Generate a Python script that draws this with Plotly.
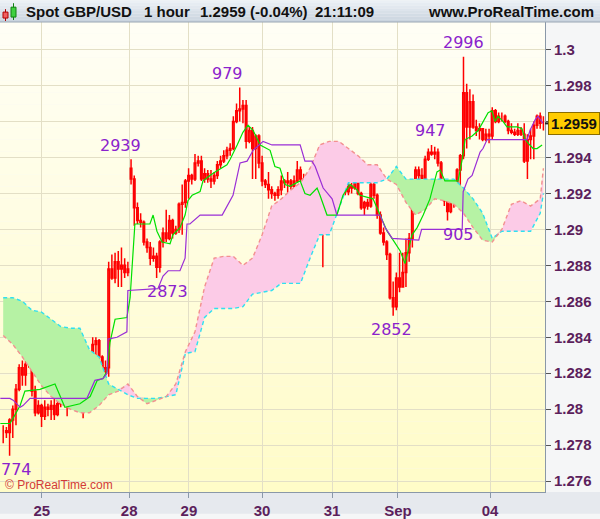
import numpy as np
import plotly.graph_objects as go

# hourly bars, GBP/USD, 24 Aug - 4 Sep (bar index 0..169)
opens = [
    1.2788, 1.2788, 1.2787, 1.2794, 1.2800, 1.2811, 1.2823, 1.2819, 1.2825, 1.2828,
    1.2810, 1.2798, 1.2802, 1.2796, 1.2801, 1.2800, 1.2802, 1.2797, 1.2803, 1.2805,
    1.2807, 1.2806, 1.2810, 1.2812, 1.2813, 1.2806, 1.2807, 1.2818, 1.2829, 1.2836,
    1.2838, 1.2829, 1.2821, 1.2823,
    1.2878, 1.2873, 1.2882, 1.2878, 1.2880, 1.2876,
    1.2934, 1.2928, 1.2912, 1.2905, 1.2904, 1.2893, 1.2890, 1.2884, 1.2885, 1.2879,
    1.2893, 1.2898, 1.2895, 1.2905, 1.2898, 1.2900, 1.2914, 1.2915, 1.2927, 1.2930,
    1.2928, 1.2937, 1.2938, 1.2928, 1.2931, 1.2928, 1.2927, 1.2930, 1.2936, 1.2938,
    1.2941, 1.2944,
    1.2945, 1.2960, 1.2966, 1.2967, 1.2969, 1.2949, 1.2955, 1.2945, 1.2952, 1.2937,
    1.2927, 1.2925, 1.2922, 1.2920, 1.2919, 1.2922, 1.2927, 1.2926, 1.2927, 1.2924,
    1.2927, 1.2933, 1.2928, 1.2910, 1.2926, 1.2924, 1.2927, 1.2921, 1.2906, 1.2898,
    1.2920, 1.2934, 1.2931, 1.2930, 1.2927, 1.2925, 1.2921, 1.2924,
    1.2923, 1.2926, 1.2920, 1.2912, 1.2915, 1.2913, 1.2925, 1.2919, 1.2908, 1.2898,
    1.2893, 1.2886, 1.2862, 1.2857, 1.2873, 1.2868, 1.2876, 1.2887, 1.2895, 1.2914,
    1.2933, 1.2930, 1.2928, 1.2939, 1.2943, 1.2942, 1.2943, 1.2937, 1.2925, 1.2916,
    1.2910, 1.2915, 1.2925, 1.2933, 1.2941, 1.2976, 1.2957, 1.2971, 1.2957, 1.2955,
    1.2956, 1.2950, 1.2953, 1.2952, 1.2966, 1.2960, 1.2963, 1.2963, 1.2960, 1.2955,
    1.2954, 1.2953, 1.2955, 1.2953, 1.2938, 1.2950, 1.2952, 1.2958, 1.2963, 1.2959,
]
highs = [
    1.2791, 1.2790, 1.2795, 1.2802, 1.2814, 1.2825, 1.2827, 1.2838, 1.2834, 1.2829,
    1.2813, 1.2805, 1.2803, 1.2805, 1.2803, 1.2805, 1.2807, 1.2807, 1.2810, 1.2813,
    1.2811, 1.2813, 1.2817, 1.2816, 1.2814, 1.2818, 1.2819, 1.2831, 1.2840, 1.2840,
    1.2839, 1.2830, 1.2827, 1.2882,
    1.2886, 1.2887, 1.2888, 1.2890, 1.2884, 1.2882,
    1.2939, 1.2930, 1.2915, 1.2909, 1.2905, 1.2895, 1.2893, 1.2890, 1.2887, 1.2894,
    1.2901, 1.2911, 1.2908, 1.2906, 1.2902, 1.2915, 1.2925, 1.2928, 1.2934, 1.2931,
    1.2942, 1.2941, 1.2941, 1.2934, 1.2933, 1.2933, 1.2932, 1.2938, 1.2941, 1.2944,
    1.2946, 1.2948,
    1.2963, 1.2970, 1.2979, 1.2972, 1.2972, 1.2957, 1.2957, 1.2953, 1.2953, 1.2941,
    1.2928, 1.2932, 1.2924, 1.2921, 1.2924, 1.2930, 1.2928, 1.2932, 1.2928, 1.2930,
    1.2938, 1.2935, 1.2931, 1.2928, 1.2934, 1.2936, 1.2938, 1.2928, 1.2909, 1.2923,
    1.2937, 1.2938, 1.2934, 1.2933, 1.2931, 1.2927, 1.2927, 1.2926,
    1.2927, 1.2927, 1.2921, 1.2916, 1.2917, 1.2927, 1.2926, 1.2920, 1.2910, 1.2901,
    1.2894, 1.2887, 1.2871, 1.2876, 1.2887, 1.2887, 1.2895, 1.2898, 1.2915, 1.2935,
    1.2935, 1.2934, 1.2941, 1.2945, 1.2947, 1.2946, 1.2945, 1.2938, 1.2927, 1.2919,
    1.2920, 1.2927, 1.2934, 1.2942, 1.2996, 1.2981, 1.2978, 1.2975, 1.2961, 1.2959,
    1.2956, 1.2956, 1.2956, 1.2968, 1.2967, 1.2965, 1.2965, 1.2964, 1.2961, 1.2959,
    1.2956, 1.2959, 1.2957, 1.2959, 1.2953, 1.2956, 1.2960, 1.2964, 1.2965, 1.2963,
]
lows = [
    1.2781, 1.2784, 1.2774, 1.2784, 1.2791, 1.2810, 1.2813, 1.2813, 1.2823, 1.2807,
    1.2796, 1.2797, 1.2790, 1.2794, 1.2796, 1.2794, 1.2794, 1.2796, 1.2801, 1.2802,
    1.2796, 1.2805, 1.2807, 1.2810, 1.2805, 1.2795, 1.2805, 1.2816, 1.2828, 1.2829,
    1.2827, 1.2816, 1.2819, 1.2818,
    1.2872, 1.2870, 1.2868, 1.2868, 1.2873, 1.2874,
    1.2925, 1.2902, 1.2903, 1.2901, 1.2891, 1.2887, 1.2880, 1.2882, 1.2873, 1.2876,
    1.2890, 1.2893, 1.2894, 1.2895, 1.2897, 1.2898, 1.2897, 1.2912, 1.2917, 1.2925,
    1.2927, 1.2935, 1.2927, 1.2926, 1.2926, 1.2923, 1.2925, 1.2928, 1.2934, 1.2937,
    1.2939, 1.2941,
    1.2944, 1.2959, 1.2960, 1.2959, 1.2945, 1.2948, 1.2928, 1.2928, 1.2934, 1.2924,
    1.2923, 1.2917, 1.2917, 1.2916, 1.2917, 1.2919, 1.2923, 1.2919, 1.2922, 1.2923,
    1.2926, 1.2927, 1.2897, 1.2909, 1.2916, 1.2920, 1.2920, 1.2905, 1.2879, 1.2897,
    1.2919, 1.2928, 1.2919, 1.2923, 1.2923, 1.2919, 1.2919, 1.2920,
    1.2922, 1.2919, 1.2911, 1.2908, 1.2911, 1.2912, 1.2917, 1.2906, 1.2897, 1.2891,
    1.2883, 1.2861, 1.2852, 1.2855, 1.2865, 1.2868, 1.2868, 1.2882, 1.2890, 1.2911,
    1.2927, 1.2926, 1.2927, 1.2938, 1.2941, 1.2939, 1.2935, 1.2923, 1.2913, 1.2905,
    1.2909, 1.2912, 1.2923, 1.2923, 1.2939, 1.2945, 1.2950, 1.2956, 1.2952, 1.2950,
    1.2949, 1.2949, 1.2948, 1.2950, 1.2959, 1.2959, 1.2960, 1.2959, 1.2953, 1.2953,
    1.2952, 1.2952, 1.2952, 1.2937, 1.2928, 1.2939, 1.2939, 1.2956, 1.2956, 1.2955,
]
closes = [
    1.2788, 1.2787, 1.2794, 1.2800, 1.2811, 1.2823, 1.2819, 1.2825, 1.2828, 1.2810,
    1.2798, 1.2802, 1.2796, 1.2801, 1.2800, 1.2802, 1.2797, 1.2803, 1.2805, 1.2807,
    1.2806, 1.2810, 1.2812, 1.2813, 1.2806, 1.2807, 1.2818, 1.2829, 1.2836, 1.2838,
    1.2829, 1.2821, 1.2823, 1.2878,
    1.2873, 1.2882, 1.2878, 1.2880, 1.2876, 1.2878,
    1.2928, 1.2912, 1.2905, 1.2904, 1.2893, 1.2890, 1.2884, 1.2885, 1.2879, 1.2893,
    1.2898, 1.2895, 1.2905, 1.2898, 1.2900, 1.2914, 1.2915, 1.2927, 1.2930, 1.2928,
    1.2937, 1.2938, 1.2928, 1.2931, 1.2928, 1.2927, 1.2930, 1.2936, 1.2938, 1.2941,
    1.2944, 1.2945,
    1.2960, 1.2966, 1.2967, 1.2969, 1.2949, 1.2955, 1.2945, 1.2952, 1.2937, 1.2927,
    1.2925, 1.2922, 1.2920, 1.2919, 1.2922, 1.2927, 1.2926, 1.2927, 1.2924, 1.2927,
    1.2933, 1.2928, 1.2910, 1.2926, 1.2924, 1.2927, 1.2921, 1.2906, 1.2898, 1.2920,
    1.2934, 1.2931, 1.2930, 1.2927, 1.2925, 1.2921, 1.2924, 1.2923,
    1.2926, 1.2920, 1.2912, 1.2915, 1.2913, 1.2925, 1.2919, 1.2908, 1.2898, 1.2893,
    1.2886, 1.2862, 1.2857, 1.2873, 1.2868, 1.2876, 1.2887, 1.2895, 1.2914, 1.2933,
    1.2930, 1.2928, 1.2939, 1.2943, 1.2942, 1.2943, 1.2937, 1.2925, 1.2916, 1.2910,
    1.2915, 1.2925, 1.2933, 1.2941, 1.2976, 1.2957, 1.2971, 1.2957, 1.2955, 1.2956,
    1.2950, 1.2953, 1.2952, 1.2966, 1.2960, 1.2963, 1.2963, 1.2960, 1.2955, 1.2954,
    1.2953, 1.2955, 1.2953, 1.2938, 1.2950, 1.2952, 1.2958, 1.2963, 1.2959, 1.2959,
]
bar_idx = np.arange(len(closes))

# Ichimoku: tenkan (green) and kijun (purple), read as (bar, price) vertices
tenkan_x = [-0.9, 2.1, 3.1, 5.3, 6.8, 11.5, 16.2, 17.8, 19.3, 24.0, 27.2, 29.4, 31.2, 32.5, 33.4,
            35.0, 38.7, 39.7, 40.3, 41.2, 45.9, 46.9, 48.1, 49.7, 52.2, 53.1, 55.3, 56.9, 57.8,
            59.1, 61.6, 62.5, 64.7, 66.3, 70.0, 71.0, 73.2, 75.0, 76.6, 78.2, 80.4, 83.5, 85.0,
            86.6, 88.2, 89.7, 92.9, 94.4, 96.0, 98.2, 99.1, 101.3, 104.4, 106.3, 108.5, 110.7,
            111.6, 115.7, 117.9, 120.1, 122.0, 124.2, 125.7, 126.7, 127.9, 129.5, 131.4, 133.5,
            135.7, 136.7, 138.2, 142.3, 143.6, 144.5, 146.7, 148.6, 150.1, 151.7, 152.9, 153.9,
            154.8, 156.4, 157.6, 160.8, 162.3, 163.3, 164.2, 165.8, 167.0, 168.6]
tenkan_y = [1.2792, 1.2792, 1.2795, 1.2802, 1.2810, 1.2811, 1.2814, 1.2807, 1.2801, 1.2803, 1.2807,
            1.2816, 1.2817, 1.2821, 1.2837, 1.2850, 1.2851, 1.2862, 1.2877, 1.2903, 1.2903, 1.2908,
            1.2899, 1.2893, 1.2892, 1.2897, 1.2901, 1.2908, 1.2916, 1.2919, 1.2921, 1.2927, 1.2930,
            1.2932, 1.2936, 1.2939, 1.2947, 1.2954, 1.2958, 1.2955, 1.2947, 1.2944, 1.2935, 1.2934,
            1.2925, 1.2924, 1.2927, 1.2920, 1.2919, 1.2923, 1.2919, 1.2908, 1.2908, 1.2919, 1.2925,
            1.2922, 1.2919, 1.2917, 1.2908, 1.2899, 1.2894, 1.2888, 1.2881, 1.2888, 1.2897, 1.2901,
            1.2908, 1.2917, 1.2932, 1.2933, 1.2927, 1.2927, 1.2939, 1.2950, 1.2952, 1.2955, 1.2960,
            1.2965, 1.2966, 1.2960, 1.2963, 1.2960, 1.2957, 1.2957, 1.2956, 1.2950, 1.2948, 1.2945,
            1.2945, 1.2947]
kijun_x = [-0.9, 2.1, 3.1, 5.3, 6.2, 8.4, 26.2, 27.2, 28.7, 31.2, 32.5, 32.8, 35.6, 38.7, 39.0,
           48.4, 50.0, 51.6, 55.3, 56.9, 57.5, 58.4, 61.6, 68.5, 71.9, 74.1, 76.3, 78.2, 81.3,
           84.1, 92.9, 94.4, 96.6, 97.6, 100.1, 102.9, 104.4, 117.9, 119.5, 121.7, 130.0, 130.9,
           143.6, 143.9, 145.4, 146.7, 148.3, 149.2, 150.1, 151.4, 163.9, 164.8, 166.4, 167.3, 168.9]
kijun_y = [1.2806, 1.2806, 1.2805, 1.2801, 1.2802, 1.2806, 1.2806, 1.2810, 1.2816, 1.2817, 1.2820,
           1.2839, 1.2840, 1.2843, 1.2866, 1.2867, 1.2874, 1.2877, 1.2877, 1.2884, 1.2903, 1.2903,
           1.2908, 1.2908, 1.2919, 1.2937, 1.2938, 1.2944, 1.2949, 1.2947, 1.2947, 1.2938, 1.2938,
           1.2935, 1.2923, 1.2917, 1.2908, 1.2908, 1.2901, 1.2895, 1.2894, 1.2900, 1.2900, 1.2921,
           1.2928, 1.2930, 1.2939, 1.2943, 1.2945, 1.2950, 1.2950, 1.2955, 1.2961, 1.2963, 1.2959]

# cloud: senkou span A (cyan) and span B (salmon)
cloud_idx = list(range(0, 169, 3)) + [169]
span_a = [1.2862, 1.2862, 1.2860, 1.2855, 1.2854, 1.2850, 1.2846, 1.2845, 1.2845, 1.2833,
          1.2829, 1.2814, 1.2811, 1.2808, 1.2806, 1.2806, 1.2806, 1.2807, 1.2808, 1.2831,
          1.2832, 1.2851, 1.2856, 1.2856, 1.2856, 1.2857, 1.2864, 1.2865, 1.2866, 1.2870,
          1.2870, 1.2870, 1.2884, 1.2897, 1.2897, 1.2912, 1.2926, 1.2926, 1.2926, 1.2926,
          1.2928, 1.2935, 1.2928, 1.2928, 1.2928, 1.2928, 1.2928, 1.2928, 1.2923, 1.2917,
          1.2909, 1.2895, 1.2899, 1.2899, 1.2899, 1.2899, 1.2909, 1.2920]
span_b = [1.2841, 1.2836, 1.2829, 1.2821, 1.2813, 1.2807, 1.2803, 1.2800, 1.2798, 1.2798,
          1.2802, 1.2808, 1.2810, 1.2814, 1.2807, 1.2803, 1.2805, 1.2807, 1.2814, 1.2832,
          1.2843, 1.2868, 1.2884, 1.2885, 1.2885, 1.2880, 1.2884, 1.2897, 1.2913, 1.2917,
          1.2922, 1.2926, 1.2934, 1.2947, 1.2949, 1.2949, 1.2945, 1.2941, 1.2936, 1.2936,
          1.2928, 1.2925, 1.2915, 1.2908, 1.2911, 1.2917, 1.2916, 1.2914, 1.2909, 1.2901,
          1.2894, 1.2893, 1.2900, 1.2914, 1.2916, 1.2913, 1.2917, 1.2934]

# swing labels (bar, high/low, text)
label_bars = [2, 40, 48, 74, 122, 134, 139, 144]
label_side = ["low", "high", "low", "high", "low", "high", "low", "high"]
label_text = ["774", "2939", "2873", "979", "2852", "947", "905", "2996"]
label_xshift = [7, -11, 11, -12, -2, -1, 11, 0]

day_ticks = [12.1, 39.4, 58.1, 81.0, 102.9, 123.5, 152.3]
day_labels = ["25", "28", "29", "30", "31", "Sep", "04"]
price_ticks = [1.276, 1.278, 1.28, 1.282, 1.284, 1.286, 1.288, 1.29, 1.292, 1.294, 1.296, 1.298, 1.3]
# 1.296 sits under the last-price box, so its label is left blank
price_labels = ["1.276", "1.278", "1.28", "1.282", "1.284", "1.286", "1.288", "1.29",
                "1.292", "1.294", "", "1.298", "1.3"]
last_price = 1.2959

X_RANGE = [-1, 169.5]
Y_RANGE = [1.27539, 1.30154]
AX_COLOR = '#5c1f5c'

fig = go.Figure()

# cloud fills: green where A above B, pink where B above A
upper = np.maximum(span_a, span_b)
fig.add_trace(go.Scatter(x=cloud_idx, y=span_b, mode='lines', line=dict(width=0),
                         hoverinfo='skip', showlegend=False))
fig.add_trace(go.Scatter(x=cloud_idx, y=upper, mode='lines', line=dict(width=0), fill='tonexty',
                         fillcolor='#b6f2a4', hoverinfo='skip', showlegend=False))
fig.add_trace(go.Scatter(x=cloud_idx, y=span_a, mode='lines', line=dict(width=0),
                         hoverinfo='skip', showlegend=False))
fig.add_trace(go.Scatter(x=cloud_idx, y=upper, mode='lines', line=dict(width=0), fill='tonexty',
                         fillcolor='#fccbe7', hoverinfo='skip', showlegend=False))
fig.add_trace(go.Scatter(x=cloud_idx, y=span_a, mode='lines', showlegend=False,
                         line=dict(color='#2fe0f0', width=1.4, dash='4px,3px')))
fig.add_trace(go.Scatter(x=cloud_idx, y=span_b, mode='lines', showlegend=False,
                         line=dict(color='#f39090', width=1.4, dash='4px,3px')))

fig.add_trace(go.Candlestick(
    x=bar_idx, open=opens, high=highs, low=lows, close=closes, showlegend=False,
    increasing=dict(line=dict(color='#ff0000', width=1.5), fillcolor='rgba(0,0,0,0)'),
    decreasing=dict(line=dict(color='#ff0000', width=1.5), fillcolor='#7a2c78'),
    whiskerwidth=0,
))

fig.add_trace(go.Scatter(x=tenkan_x, y=tenkan_y, mode='lines', showlegend=False,
                         line=dict(color='#00e000', width=1.2)))
fig.add_trace(go.Scatter(x=kijun_x, y=kijun_y, mode='lines', showlegend=False,
                         line=dict(color='#9a2ed6', width=1.2)))

# swing labels
for b, side, t, dx in zip(label_bars, label_side, label_text, label_xshift):
    yv = highs[b] if side == "high" else lows[b]
    fig.add_annotation(x=b, y=yv, text=t, showarrow=False, xshift=dx,
                       yshift=14 if side == "high" else -14,
                       font=dict(family='DejaVu Sans', size=16, color='#8b22cc'))

shapes = []
# plot background gradient (below grid)
n = 40
top_c = np.array([255, 255, 246])
bot_c = np.array([255, 252, 200])
for k in range(n):
    c = top_c + (bot_c - top_c) * (k + 0.5) / n
    shapes.append(dict(type='rect', xref='paper', yref='paper', x0=0, x1=1,
                       y0=1 - (k + 1) / n, y1=1 - k / n, layer='below', line=dict(width=0),
                       fillcolor='rgb(%d,%d,%d)' % tuple(c)))
# header bar gradient
H0, H1 = 1.0, 1 + 22 / 475
hn = 8
h_top = np.array([238, 242, 247])
h_bot = np.array([200, 210, 222])
for k in range(hn):
    c = h_top + (h_bot - h_top) * (k + 0.5) / hn
    shapes.append(dict(type='rect', xref='paper', yref='paper', x0=-0.01, x1=1.11,
                       y0=H1 - (k + 1) * (H1 - H0) / hn, y1=H1 - k * (H1 - H0) / hn,
                       line=dict(width=0), fillcolor='rgb(%d,%d,%d)' % tuple(c)))
shapes.append(dict(type='line', xref='paper', yref='paper', x0=0, x1=1.11, y0=H0, y1=H0,
                   line=dict(color='#9aa6b4', width=1)))
# bottom axis strip
shapes.append(dict(type='rect', xref='paper', yref='paper', x0=-0.01, x1=1.11, y0=-22 / 475, y1=0,
                   line=dict(width=0), fillcolor='#e6e9ee', layer='below'))
# header icon: small red + green candles
px = lambda v: v / 545
py = lambda v: (497 - v) / 475
shapes += [
    dict(type='line', xref='paper', yref='paper', x0=px(5.5), x1=px(5.5), y0=py(9), y1=py(21),
         line=dict(color='#b00000', width=1)),
    dict(type='rect', xref='paper', yref='paper', x0=px(3), x1=px(8), y0=py(12), y1=py(18),
         line=dict(color='#b00000', width=1), fillcolor='#f06060'),
    dict(type='line', xref='paper', yref='paper', x0=px(13.5), x1=px(13.5), y0=py(3), y1=py(20),
         line=dict(color='#108010', width=1)),
    dict(type='rect', xref='paper', yref='paper', x0=px(11), x1=px(16), y0=py(7), y1=py(17),
         line=dict(color='#108010', width=1), fillcolor='#40d040'),
]
# last price marker tick
shapes.append(dict(type='line', xref='paper', yref='y', x0=1.0, x1=1 + 7 / 545,
                   y0=last_price, y1=last_price, line=dict(color='#222222', width=2)))
fig.update_layout(shapes=shapes)

head_font = dict(family='Liberation Sans', size=15, color='#111111', weight='bold')
for txt, xpix in [("Spot GBP/USD", 24), ("1 hour", 142), ("1.2959 (-0.04%)", 198), ("21:11:09", 313)]:
    fig.add_annotation(xref='paper', yref='paper', x=xpix / 545, y=py(11), text=txt,
                       showarrow=False, xanchor='left', yanchor='middle', font=head_font)
fig.add_annotation(xref='paper', yref='paper', x=596 / 545, y=py(11), text="www.ProRealTime.com",
                   showarrow=False, xanchor='right', yanchor='middle', font=head_font)
fig.add_annotation(xref='paper', yref='paper', x=3 / 545, y=py(490), text="© ProRealTime.com",
                   showarrow=False, xanchor='left', yanchor='middle',
                   font=dict(family='Liberation Sans', size=12, color='#d23a3a'))
fig.add_annotation(xref='paper', yref='y', x=1 + 3 / 545, y=last_price, text="1.2959",
                   showarrow=False, xanchor='left', yanchor='middle', bgcolor='#ffcc00',
                   bordercolor='#8a6d00', borderwidth=1, borderpad=2,
                   font=dict(family='Liberation Sans', size=15, color='#111111', weight='bold'))

fig.update_layout(
    width=600, height=519,
    margin=dict(l=0, r=55, t=22, b=22),
    paper_bgcolor='#f5f6f7',
    plot_bgcolor='rgba(0,0,0,0)',
    showlegend=False,
    xaxis=dict(
        range=X_RANGE, rangeslider=dict(visible=False),
        tickmode='array', tickvals=day_ticks, ticktext=day_labels,
        showgrid=True, gridcolor='#e3dfc6', gridwidth=1, zeroline=False,
        showline=True, linecolor='#8a98a8', linewidth=1,
        ticks='outside', ticklen=5, tickcolor='#8a98a8',
        tickfont=dict(family='Liberation Sans', size=15, color=AX_COLOR, weight='bold'),
    ),
    yaxis=dict(
        range=Y_RANGE, side='right',
        tickmode='array', tickvals=price_ticks, ticktext=price_labels,
        showgrid=True, gridcolor='#e3dfc6', gridwidth=1, zeroline=False,
        showline=True, linecolor='#8a98a8', linewidth=1,
        ticks='outside', ticklen=5, tickcolor='#555555',
        tickfont=dict(family='Liberation Sans', size=15, color=AX_COLOR, weight='bold'),
    ),
)

fig.write_html("out.html", config={'displayModeBar': False},
               post_script="document.body.style.margin='0';")
